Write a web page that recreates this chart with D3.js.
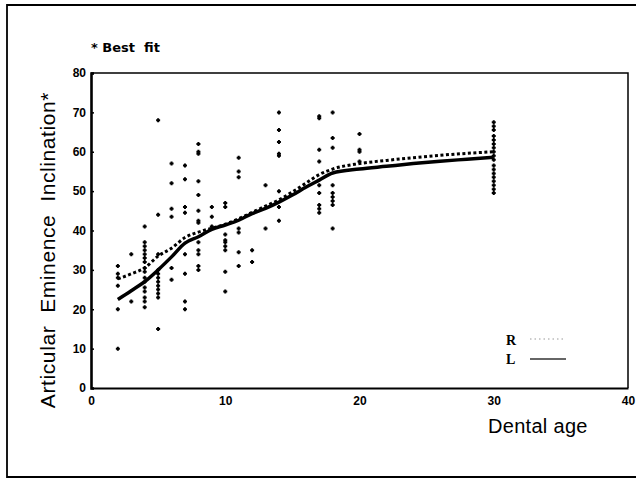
<!DOCTYPE html>
<html><head><meta charset="utf-8">
<script src="https://cdn.jsdelivr.net/npm/d3@7"></script>
<style>body{margin:0;background:#fff}</style>
</head><body>
<svg id="c" width="636" height="478"></svg>
<script>
const xTicks = [0, 10, 20, 30, 40];
const yTicks = [0, 10, 20, 30, 40, 50, 60, 70, 80];
const pointAges = [2, 3, 4, 5, 6, 7, 8, 9, 10, 11, 12, 13, 14, 17, 18, 20, 30];
const pointValues = [
  [31, 29, 28, 26, 20, 10],
  [34, 22],
  [41, 37, 36, 35, 34, 33, 32, 30.5, 29.5, 28, 27, 25.5, 24.5, 23, 22, 20.5],
  [68, 44, 34, 30, 29, 28, 27, 26, 25, 24, 23, 15],
  [57, 52, 45.5, 43.5, 30.5, 27.5],
  [56.5, 53, 46, 44.5, 34, 29, 22, 20],
  [62, 60, 59.5, 52.5, 49, 45, 42.5, 42, 37, 35, 34, 31, 30],
  [46, 43.5, 41],
  [47, 46, 39, 37.5, 37, 36, 35, 29.5, 24.5],
  [58.5, 55, 53.5, 40.5, 39.5, 34.5, 31],
  [35, 32],
  [51.5, 40.5],
  [70, 65.5, 62.5, 59.5, 59, 50, 46, 42.5],
  [69, 68.5, 60.5, 57.5, 51.5, 49.5, 46.5, 45.5, 44.5],
  [70, 63.5, 61, 51.5, 49.5, 48.5, 47.5, 46.5, 40.5],
  [64.5, 60.5, 60, 57.5],
  [67.5, 66.5, 65.5, 64, 63, 62, 61, 60, 59, 58, 56.5, 55.5, 54.5, 53.5, 52.5, 51.5, 50.5, 49.5]
];
const fitAges = [2, 3, 4, 5, 6, 7, 8, 9, 10, 11, 12, 13, 14, 15, 16, 17, 18, 20, 22, 24, 26, 28, 30];
const fitL = [22.5, 24.7, 27, 30, 33.3, 36.8, 38.4, 40.3, 41.4, 42.6, 44.3, 45.6, 47.2, 49, 51, 52.8, 54.6, 55.6, 56.3, 57, 57.6, 58.1, 58.6];
const fitR = [27.7, 29, 30.5, 33.5, 35.5, 38.2, 39.6, 40.6, 41.6, 43, 44.6, 46.2, 47.8, 49.8, 52, 54.2, 55.6, 57, 57.8, 58.5, 59.1, 59.6, 60];
const legendLabels = ["R", "L"];

const svg = d3.select("#c");
const m = {l: 91, r: 628, t: 73, b: 388};
const x = d3.scaleLinear().domain([0, 40]).range([m.l, m.r]);
const y = d3.scaleLinear().domain([0, 80]).range([m.b, m.t]);

// outer border (left, top, bottom)
svg.append("path").attr("d", "M636,5H7V477H636")
  .attr("fill", "none").attr("stroke", "#000").attr("stroke-width", 1.8);

// plot frame top/right
svg.append("path").attr("d", `M${m.l},${m.t}H${m.r}V${m.b}`)
  .attr("fill", "none").attr("stroke", "#000").attr("stroke-width", 1.5);

// axes
const xAxis = d3.axisBottom(x).tickValues(xTicks).tickSize(0).tickPadding(8);
const gx = svg.append("g").attr("transform", `translate(0,${m.b})`).call(xAxis);
gx.select(".domain").attr("stroke-width", 2.2);
gx.selectAll("text").attr("font-family", "Liberation Sans, Arial, sans-serif")
  .attr("font-size", 12).attr("font-weight", "bold").attr("fill", "#000");

const yAxis = d3.axisLeft(y).tickValues(yTicks).tickSize(-3).tickPadding(4);
const gy = svg.append("g").attr("transform", `translate(${m.l},0)`).call(yAxis);
gy.select(".domain").attr("stroke-width", 2.6);
gy.selectAll("line").attr("stroke-width", 1.5);
gy.selectAll("text").attr("font-family", "Liberation Sans, Arial, sans-serif")
  .attr("font-size", 12).attr("font-weight", "bold").attr("fill", "#000").attr("dx", -1);

// scatter
const pts = [];
pointAges.forEach((a, i) => pointValues[i].forEach(v => pts.push([a, v])));
svg.append("g").selectAll("path").data(pts).enter().append("path")
  .attr("d", d => `M${x(d[0]) - 2},${y(d[1])}h4M${x(d[0])},${y(d[1]) - 2}v4`)
  .attr("stroke", "#000").attr("stroke-width", 2);

// fit lines
const line = d3.line().curve(d3.curveMonotoneX);
const rData = fitAges.map((a, i) => [x(a), y(fitR[i])]);
const lData = fitAges.map((a, i) => [x(a), y(fitL[i])]);
svg.append("path").attr("d", line(rData)).attr("fill", "none")
  .attr("stroke", "#000").attr("stroke-width", 3).attr("stroke-dasharray", "3,2.5");
svg.append("path").attr("d", line(lData)).attr("fill", "none")
  .attr("stroke", "#000").attr("stroke-width", 3.5);

// legend
const lg = svg.append("g");
legendLabels.forEach((t, i) => {
  const yy = 345 + i * 19;
  lg.append("text").attr("x", 506).attr("y", yy).text(t)
    .attr("font-family", "Liberation Serif, Times New Roman, serif")
    .attr("font-size", 14).attr("font-weight", "bold");
  lg.append("line").attr("x1", 530).attr("x2", 566).attr("y1", yy - 6 + i).attr("y2", yy - 6 + i)
    .attr("stroke", i === 0 ? "#999" : "#333").attr("stroke-width", i === 0 ? 1 : 1.6)
    .attr("stroke-dasharray", i === 0 ? "1.5,3" : null);
});

// titles
svg.append("text").attr("x", 91).attr("y", 52).text("* Best  fit")
  .attr("font-family", "DejaVu Sans, Verdana, sans-serif").attr("font-size", 13)
  .attr("font-weight", "bold").style("white-space", "pre");

svg.append("text").attr("transform", "translate(55,250) rotate(-90)")
  .attr("text-anchor", "middle").text("Articular  Eminence  Inclination*")
  .style("white-space", "pre").attr("letter-spacing", 0.6)
  .attr("font-family", "Liberation Sans, Arial, sans-serif").attr("font-size", 21);

svg.append("text").attr("x", 488).attr("y", 433).text("Dental age")
  .attr("letter-spacing", 0.3)
  .attr("font-family", "Liberation Sans, Arial, sans-serif").attr("font-size", 20);
</script>
</body></html>
